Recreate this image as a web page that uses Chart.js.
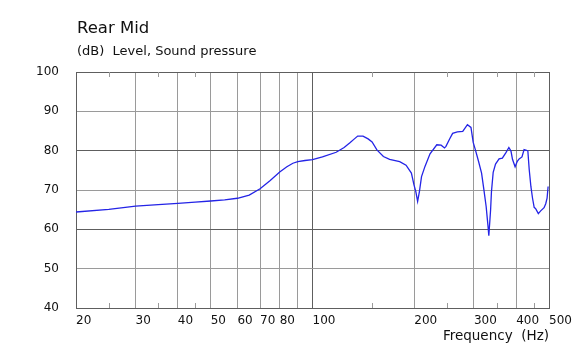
<!DOCTYPE html>
<html>
<head>
<meta charset="utf-8">
<script src="https://cdn.jsdelivr.net/npm/chart.js@4"></script>
<style>
  body { margin: 0; background: #fff; }
  #wrap { position: relative; width: 578px; height: 351px; font-family: "DejaVu Sans", Verdana, sans-serif; color: #111; }
  .lbl { position: absolute; white-space: pre; line-height: 1; }
  #title { left: 77px; top: 20px; font-size: 16.5px; }
  #sub { left: 77px; top: 44px; font-size: 13px; }
</style>
</head>
<body>
<div id="wrap">
  <canvas id="chart" width="578" height="351"></canvas>
  <div class="lbl" id="title">Rear Mid</div>
  <div class="lbl" id="sub">(dB)  Level, Sound pressure</div>
</div>
<script>
// ===== Data =====
const freqHz = [20,25,30,35,40,45,50,55,60,65, 70,75,80,84,87.5,90.5,95,100,107,117.5,
  124,129,133,136,141,146,150,155,162,169, 181,189,196,199.5,202,204.5,207,210,215,222.5,
  233,240,245.5,248,254,259.5,268,278,287,294, 298.5,303,309.5,316,321,326,330,332,336,338,
  342,347.5,356,364,373,380.5,386,390,397,403, 408,416,422,429,433,437,442,447,452,457,
  465,472.5,483.5,489,493.5,497];
const levelDb = [64.4,65.1,65.9,66.3,66.6,66.9,67.2,67.5,67.9,68.7, 70.3,72.4,74.6,75.9,76.8,77.2,77.5,77.7,78.4,79.6,
  80.8,82.0,83.0,83.7,83.7,83.0,82.2,80.2,78.5,77.8, 77.2,76.3,74.3,71.3,69.6,67.1,69.6,73.4,76.0,79.2,
  81.5,81.4,80.7,81.1,82.9,84.4,84.8,84.9,86.6,85.9, 82.1,80.2,77.3,74.3,70.1,65.8,61.0,58.4,64.9,69.6,
  74.5,76.6,77.9,78.1,79.5,80.8,79.9,77.8,75.9,77.3, 77.9,78.4,80.3,80.1,79.9,75.2,70.9,67.9,65.6,65.2,
  64.0,64.7,65.5,66.5,67.9,70.9];

const xGridTicks = [20,30,40,50,60,70,80,90,100,200,300,400,500];
const xLabels = [20,30,40,50,60,70,80,100,200,300,400,500];
const xMinorTicks = [25,35,45,150,250,350,450];
const yMin = 40, yMax = 100, yStep = 10;

// ===== Style =====
const FONT = '"DejaVu Sans", Verdana, sans-serif';
const DARK = '#5e5e5e';
const LIGHT = '#9a9a9a';
const LINE = '#2424e6';

// short inward marks at the minor frequencies, top and bottom
const minorTicks = {
  id: 'minorTicks',
  afterDraw(chart){
    const ctx = chart.ctx, xs = chart.scales.x, a = chart.chartArea;
    ctx.save();
    ctx.strokeStyle = LIGHT;
    ctx.lineWidth = 1;
    xMinorTicks.forEach(v => {
      const px = Math.round(xs.getPixelForValue(v)) + 0.5;
      ctx.beginPath();
      ctx.moveTo(px, a.top); ctx.lineTo(px, a.top + 5);
      ctx.moveTo(px, a.bottom); ctx.lineTo(px, a.bottom - 5);
      ctx.stroke();
    });
    ctx.restore();
  }
};

new Chart(document.getElementById('chart'), {
  type: 'line',
  data: {
    datasets: [{
      data: freqHz.map((f, i) => ({ x: f, y: levelDb[i] })),
      borderColor: LINE,
      borderWidth: 1.3,
      pointRadius: 0,
      tension: 0,
      fill: false
    }]
  },
  options: {
    responsive: false,
    animation: false,
    layout: { padding: { left: 0, right: 29, top: 72, bottom: 0 } },
    plugins: { legend: { display: false }, tooltip: { enabled: false } },
    scales: {
      x: {
        type: 'logarithmic',
        min: 20, max: 500,
        afterBuildTicks: s => { s.ticks = xGridTicks.map(v => ({ value: v })); },
        afterFit: s => { s.height = 43; s.paddingLeft = 0; s.paddingRight = 0; },
        grid: {
          drawTicks: false,
          color: c => (c.tick && (c.tick.value === 100 || c.tick.value === 500 || c.tick.value === 20)) ? DARK : LIGHT
        },
        border: { color: DARK },
        ticks: {
          align: 'start', autoSkip: false, maxRotation: 0, padding: 6,
          color: '#111', font: { family: FONT, size: 12 },
          callback: v => xLabels.includes(v) ? String(v) : ''
        },
        title: {
          display: true, text: 'Frequency  (Hz)', align: 'end', color: '#111',
          font: { family: FONT, size: 13.5 }, padding: { top: 0, bottom: 6 }
        }
      },
      y: {
        min: yMin, max: yMax,
        afterFit: s => { s.width = 76; s.paddingTop = 0; s.paddingBottom = 0; },
        grid: {
          drawTicks: false,
          color: c => (c.tick && c.tick.value % 20 === 0) ? DARK : LIGHT
        },
        border: { color: DARK },
        ticks: { stepSize: yStep, padding: 17, color: '#111', font: { family: FONT, size: 12 } }
      }
    }
  },
  plugins: [minorTicks]
});
</script>
</body>
</html>
